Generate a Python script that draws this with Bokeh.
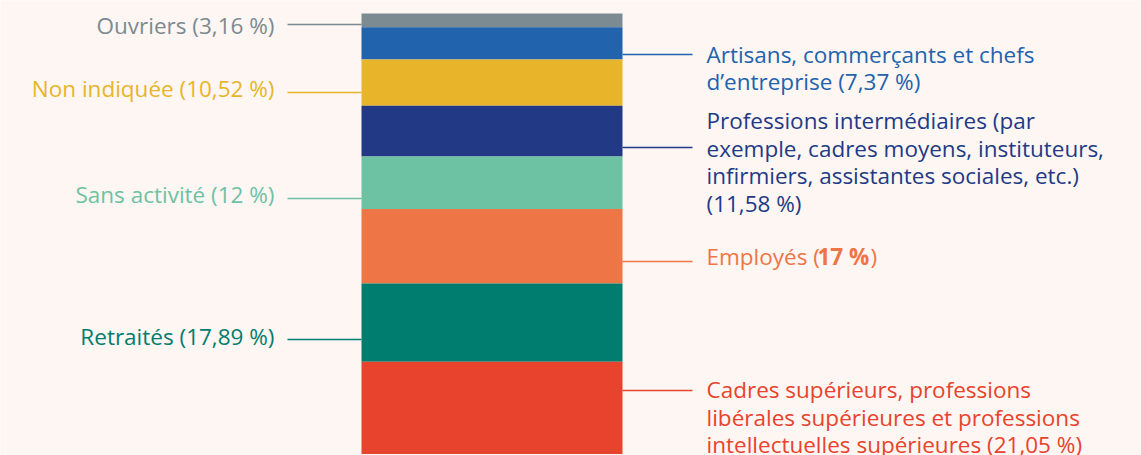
from bokeh.plotting import figure
from bokeh.models import ColumnDataSource, Range1d
from bokeh.embed import file_html
from bokeh.resources import INLINE
from bokeh.core.properties import value

# ---------------- data ----------------
categories = [
    "Ouvriers",
    "Artisans, commerçants et chefs\nd’entreprise",
    "Non indiquée",
    "Professions intermédiaires (par\nexemple, cadres moyens, instituteurs,\ninfirmiers, assistantes sociales, etc.)\n",
    "Sans activité",
    "Employés",
    "Retraités",
    "Cadres supérieurs, professions\nlibérales supérieures et professions\nintellectuelles supérieures",
]
values = [3.16, 7.37, 10.52, 11.58, 12, 17, 17.89, 21.05]
colors = ["#7b8b91", "#2163ad", "#e8b52a", "#223a86", "#6dc2a4", "#ee7545", "#007d6f", "#e8432c"]
sides = ["left", "right", "left", "right", "left", "right", "left", "right"]

# ---------------- layout ----------------
W, H = 1141, 455
BG = "#fdf6f3"
BAR_L, BAR_R = 361, 622
LEFT_LINE = (287, BAR_L)
RIGHT_LINE = (BAR_R, 692)
LEFT_TEXT_X = 274
RIGHT_TEXT_X = 706
PX_PER_UNIT = 4.38
TOP_PX = 13
leader_shift = [-0.93, -2.51, -2.25, -3.75, -3.61, -3.49, -3.86, 3.97]  # data units from segment middle
text_dy = [1, 0, -4, -26.5, -4, -5, -3, -1]                              # px, first line vs leader
LINE_H = 27.5
FONT = "Open Sans"
SIZE = "22.5px"
EMP_BOLD_DX = 111
EMP_CLOSE_DX = 164


def fmt(v):
    s = ("%.2f" % v).rstrip("0").rstrip(".")
    return s.replace(".", ",")


total = sum(values)
tops, bottoms = [], []
cum = total
for v in values:
    tops.append(cum)
    cum -= v
    bottoms.append(cum)

y_hi = total + TOP_PX / PX_PER_UNIT
y_lo = total - (H - TOP_PX) / PX_PER_UNIT

p = figure(width=W, height=H, x_range=Range1d(0, W), y_range=Range1d(y_lo, y_hi),
           output_backend="svg", toolbar_location=None, min_border=0)
p.axis.visible = False
p.grid.visible = False
p.outline_line_color = None
p.background_fill_color = BG
p.border_fill_color = BG

bars = ColumnDataSource(dict(top=tops, bottom=bottoms, color=colors))
p.quad(left=BAR_L, right=BAR_R, top="top", bottom="bottom", fill_color="color",
       line_color=None, source=bars)

seg = dict(x0=[], x1=[], y=[], color=[])
lines_l = dict(x=[], y=[], text=[], color=[])
lines_r = dict(x=[], y=[], text=[], color=[])
emp = None
for i, (name, v, c, side) in enumerate(zip(categories, values, colors, sides)):
    mid = (tops[i] + bottoms[i]) / 2 + leader_shift[i]
    x0, x1 = LEFT_LINE if side == "left" else RIGHT_LINE
    seg["x0"].append(x0); seg["x1"].append(x1); seg["y"].append(mid); seg["color"].append(c)
    sep = "" if name.endswith("\n") else " "
    label = name + sep + "(" + fmt(v) + " %)"
    y0 = mid - text_dy[i] / PX_PER_UNIT
    if name == "Employés":
        emp = (name, fmt(v), y0, c)
        continue
    for k, ln in enumerate(label.split("\n")):
        d = lines_l if side == "left" else lines_r
        d["x"].append(LEFT_TEXT_X if side == "left" else RIGHT_TEXT_X)
        d["y"].append(y0 - k * LINE_H / PX_PER_UNIT)
        d["text"].append(ln)
        d["color"].append(c)

p.segment(x0="x0", x1="x1", y0="y", y1="y", line_color="color", line_width=1.5,
          source=ColumnDataSource(seg))
p.text(x="x", y="y", text="text", text_color="color", text_align="right",
       text_baseline="middle", text_font=value(FONT), text_font_size=SIZE,
       source=ColumnDataSource(lines_l))
p.text(x="x", y="y", text="text", text_color="color", text_align="left",
       text_baseline="middle", text_font=value(FONT), text_font_size=SIZE,
       source=ColumnDataSource(lines_r))

# Employés label with bold value
name, vs, y0, c = emp
p.text(x=[RIGHT_TEXT_X], y=[y0], text=[name + " ("], text_color=c, text_align="left",
       text_baseline="middle", text_font=value(FONT), text_font_size=SIZE)
p.text(x=[RIGHT_TEXT_X + EMP_BOLD_DX], y=[y0], text=[vs + " %"], text_color=c, text_align="left",
       text_baseline="middle", text_font=value(FONT), text_font_size=SIZE,
       text_font_style="bold")
p.text(x=[RIGHT_TEXT_X + EMP_CLOSE_DX], y=[y0], text=[")"], text_color=c, text_align="left",
       text_baseline="middle", text_font=value(FONT), text_font_size=SIZE)

open("out.html", "w").write(file_html(p, INLINE))
